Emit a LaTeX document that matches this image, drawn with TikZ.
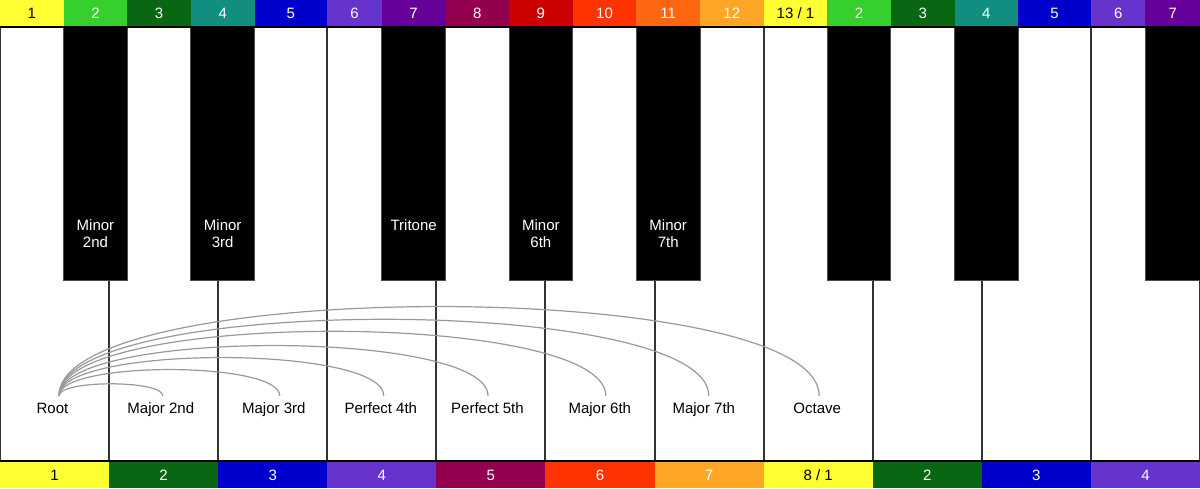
\documentclass[tikz,border=0pt]{standalone}
\usepackage{fontspec}
\setmainfont{Liberation Sans}
\usepackage{tikz}

\definecolor{cyellow}{RGB}{255,255,51}
\definecolor{cgreen}{RGB}{54,207,45}
\definecolor{cdkgreen}{RGB}{9,102,18}
\definecolor{cteal}{RGB}{18,142,128}
\definecolor{cblue}{RGB}{0,0,204}
\definecolor{cviolet}{RGB}{102,51,204}
\definecolor{cpurple}{RGB}{102,0,153}
\definecolor{cwine}{RGB}{146,0,78}
\definecolor{cred}{RGB}{204,0,0}
\definecolor{corangered}{RGB}{255,51,0}
\definecolor{corange}{RGB}{255,102,17}
\definecolor{camber}{RGB}{255,166,38}

\tikzset{
  cell/.style={minimum height=26pt, inner sep=0pt, outer sep=0pt, text=white, text height=10.7pt, text depth=0pt, font=\fontsize{15}{18}\selectfont},
  dark/.style={text=black},
  whitekey/.style={draw=black!80, line width=2pt, fill=white, minimum width=109.09pt, minimum height=434pt, inner sep=0pt, outer sep=0pt},
  blackkey/.style={draw=black!70, line width=1pt, fill=black, minimum width=63.64pt, minimum height=253pt, inner sep=0pt, outer sep=0pt},
  keylabel/.style={anchor=north, inner sep=0pt, text=white, align=center, font=\fontsize{15}{17.5}\selectfont},
  interval/.style={anchor=base, inner xsep=2pt, inner ysep=6pt, text height=11pt, text depth=3pt, font=\fontsize{15}{18}\selectfont},
  link/.style={draw=black!40, line width=1.2pt},
  rim/.style={line width=2pt, black},
}

\begin{document}
\begin{tikzpicture}[x=1pt, y=-1pt]
        \useasboundingbox (0,0) rectangle (1200,488);
        \clip (0,0) rectangle (1200,488);

        %top bar
        \node[cell, dark, fill=cyellow, minimum width=63.64pt] (t1) at (31.82,13) {1};
        \node[cell, fill=cgreen, minimum width=63.64pt] (t2) at (95.45,13) {2};
        \node[cell, fill=cdkgreen, minimum width=63.64pt] (t3) at (159.09,13) {3};
        \node[cell, fill=cteal, minimum width=63.64pt] (t4) at (222.73,13) {4};
        \node[cell, fill=cblue, minimum width=72.73pt] (t5) at (290.91,13) {5};
        \node[cell, fill=cviolet, minimum width=54.55pt] (t6) at (354.55,13) {6};
        \node[cell, fill=cpurple, minimum width=63.64pt] (t7) at (413.64,13) {7};
        \node[cell, fill=cwine, minimum width=63.64pt] (t8) at (477.27,13) {8};
        \node[cell, fill=cred, minimum width=63.64pt] (t9) at (540.91,13) {9};
        \node[cell, fill=corangered, minimum width=63.64pt] (t10) at (604.55,13) {10};
        \node[cell, fill=corange, minimum width=63.64pt] (t11) at (668.18,13) {11};
        \node[cell, fill=camber, minimum width=63.64pt] (t12) at (731.82,13) {12};
        \node[cell, dark, fill=cyellow, minimum width=63.64pt] (t13) at (795.45,13) {13 / 1};
        \node[cell, fill=cgreen, minimum width=63.64pt] (t14) at (859.09,13) {2};
        \node[cell, fill=cdkgreen, minimum width=63.64pt] (t15) at (922.73,13) {3};
        \node[cell, fill=cteal, minimum width=63.64pt] (t16) at (986.36,13) {4};
        \node[cell, fill=cblue, minimum width=72.73pt] (t17) at (1054.55,13) {5};
        \node[cell, fill=cviolet, minimum width=54.55pt] (t18) at (1118.18,13) {6};
        \node[cell, fill=cpurple, minimum width=54.55pt] (t19) at (1172.73,13) {7};

        %bottom bar
        \node[cell, dark, fill=cyellow, minimum width=109.09pt] (n1) at (54.55,475) {1};
        \node[cell, fill=cdkgreen, minimum width=109.09pt] (n2) at (163.64,475) {2};
        \node[cell, fill=cblue, minimum width=109.09pt] (n3) at (272.73,475) {3};
        \node[cell, fill=cviolet, minimum width=109.09pt] (n4) at (381.82,475) {4};
        \node[cell, fill=cwine, minimum width=109.09pt] (n5) at (490.91,475) {5};
        \node[cell, fill=corangered, minimum width=109.09pt] (n6) at (600,475) {6};
        \node[cell, fill=camber, minimum width=109.09pt] (n7) at (709.09,475) {7};
        \node[cell, dark, fill=cyellow, minimum width=109.09pt] (n8) at (818.18,475) {8 / 1};
        \node[cell, fill=cdkgreen, minimum width=109.09pt] (n9) at (927.27,475) {2};
        \node[cell, fill=cblue, minimum width=109.09pt] (n10) at (1036.36,475) {3};
        \node[cell, fill=cviolet, minimum width=109.09pt] (n11) at (1145.45,475) {4};

        %white keys
        \node[whitekey] (w1) at (54.55,244) {};
        \node[whitekey] (w2) at (163.64,244) {};
        \node[whitekey] (w3) at (272.73,244) {};
        \node[whitekey] (w4) at (381.82,244) {};
        \node[whitekey] (w5) at (490.91,244) {};
        \node[whitekey] (w6) at (600,244) {};
        \node[whitekey] (w7) at (709.09,244) {};
        \node[whitekey] (w8) at (818.18,244) {};
        \node[whitekey] (w9) at (927.27,244) {};
        \node[whitekey] (w10) at (1036.36,244) {};
        \node[whitekey] (w11) at (1145.45,244) {};

        %black keys
        \node[blackkey] (b1) at (95.45,153.5) {};
        \node[blackkey] (b2) at (222.73,153.5) {};
        \node[blackkey] (b3) at (413.64,153.5) {};
        \node[blackkey] (b4) at (540.91,153.5) {};
        \node[blackkey] (b5) at (668.18,153.5) {};
        \node[blackkey] (b6) at (859.09,153.5) {};
        \node[blackkey] (b7) at (986.36,153.5) {};
        \node[blackkey] (b8) at (1177.27,153.5) {};

        \draw[rim] (w1.north west) -- (w11.north east);
        \draw[rim] (w1.south west) -- (w11.south east);

        \node[keylabel] (m2) at (95.45,219) {Minor\\2nd};
        \node[keylabel] (m3) at (222.73,219) {Minor\\3rd};
        \node[keylabel] (tt) at (413.64,219) {Tritone};
        \node[keylabel] (m6) at (540.91,219) {Minor\\6th};
        \node[keylabel] (m7) at (668.18,219) {Minor\\7th};

        %intervals
        \node[interval] (root) at (52.5,413) {Root};
        \node[interval] (maj2) at (160.8,413) {Major 2nd};
        \node[interval] (maj3) at (273.8,413) {Major 3rd};
        \node[interval] (p4) at (380.8,413) {Perfect 4th};
        \node[interval] (p5) at (487.5,413) {Perfect 5th};
        \node[interval] (maj6) at (599.8,413) {Major 6th};
        \node[interval] (maj7) at (703.8,413) {Major 7th};
        \node[interval] (oct) at (817.2,413) {Octave};

        \draw[link] ([xshift=6.5pt]root.north) .. controls +(0,-16) and +(0,-16) .. ([xshift=2pt]maj2.north);
        \draw[link] ([xshift=6.5pt]root.north) .. controls +(0,-35) and +(0,-35) .. ([xshift=6pt]maj3.north);
        \draw[link] ([xshift=6.5pt]root.north) .. controls +(0,-51) and +(0,-51) .. ([xshift=3pt]p4.north);
        \draw[link] ([xshift=6.5pt]root.north) .. controls +(0,-67) and +(0,-67) .. ([xshift=0.5pt]p5.north);
        \draw[link] ([xshift=6.5pt]root.north) .. controls +(0,-86) and +(0,-86) .. ([xshift=6pt]maj6.north);
        \draw[link] ([xshift=6.5pt]root.north) .. controls +(0,-102) and +(0,-102) .. ([xshift=5pt]maj7.north);
        \draw[link] ([xshift=6.5pt]root.north) .. controls +(0,-119) and +(0,-119) .. ([xshift=2pt]oct.north);
    \end{tikzpicture}
\end{document}
